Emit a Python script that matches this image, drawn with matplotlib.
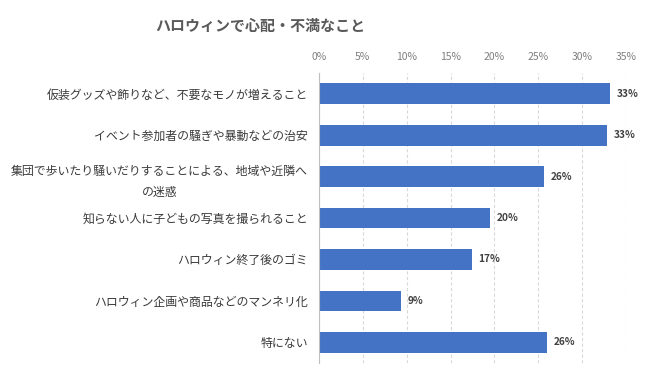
import matplotlib.pyplot as plt
import numpy as np

plt.rcParams['font.family'] = ['Noto Sans CJK JP', 'DejaVu Sans']

# data
categories = [
    '仮装グッズや飾りなど、不要なモノが増えること',
    'イベント参加者の騒ぎや暴動などの治安',
    '集団で歩いたり騒いだりすることによる、地域や近隣へ\nの迷惑',
    '知らない人に子どもの写真を撮られること',
    'ハロウィン終了後のゴミ',
    'ハロウィン企画や商品などのマンネリ化',
    '特にない',
]
values = [33.2, 32.8, 25.6, 19.5, 17.4, 9.3, 26.0]
value_labels = ['33%', '33%', '26%', '20%', '17%', '9%', '26%']
xticks = [0, 5, 10, 15, 20, 25, 30, 35]
title = 'ハロウィンで心配・不満なこと'


def main():
    fig = plt.figure(figsize=(6.5, 3.77), dpi=100)
    ax = fig.add_axes([319/650, 1 - 363/377, 307/650, 290/377])

    y = np.arange(len(categories))
    ax.barh(y, values, height=0.5, color='#4472C4', zorder=3)

    for yi, v, lab in zip(y, values, value_labels):
        ax.annotate(lab, (v, yi), xytext=(5, 0), textcoords='offset points',
                    va='center', ha='left', fontsize=7.3, fontweight='bold',
                    color='#404040')

    ax.set_yticks(y)
    ax.set_yticklabels(categories, fontsize=8.6, color='#3a3a3a',
                       multialignment='center', linespacing=1.8)
    ax.set_ylim(len(categories) - 0.5, -0.5)

    ax.set_xlim(0, 35)
    ax.set_xticks(xticks)
    ax.set_xticklabels([f'{t}%' for t in xticks], fontsize=7.5, color='#7f7f7f')
    ax.xaxis.tick_top()
    ax.tick_params(axis='x', length=0, pad=8)
    ax.tick_params(axis='y', length=0, pad=8)

    ax.grid(axis='x', linestyle=(0, (3, 2)), color='#d9d9d9', linewidth=0.8, zorder=0)
    for s in ['top', 'right', 'bottom']:
        ax.spines[s].set_visible(False)
    ax.spines['left'].set_color('#bfbfbf')
    ax.spines['left'].set_zorder(4)

    fig.text(260/650, 1 - 26/377, title, ha='center', va='center',
             fontsize=10.8, fontweight='bold', color='#595959')

    fig.savefig('out.png', dpi=100)


if __name__ == '__main__':
    main()
